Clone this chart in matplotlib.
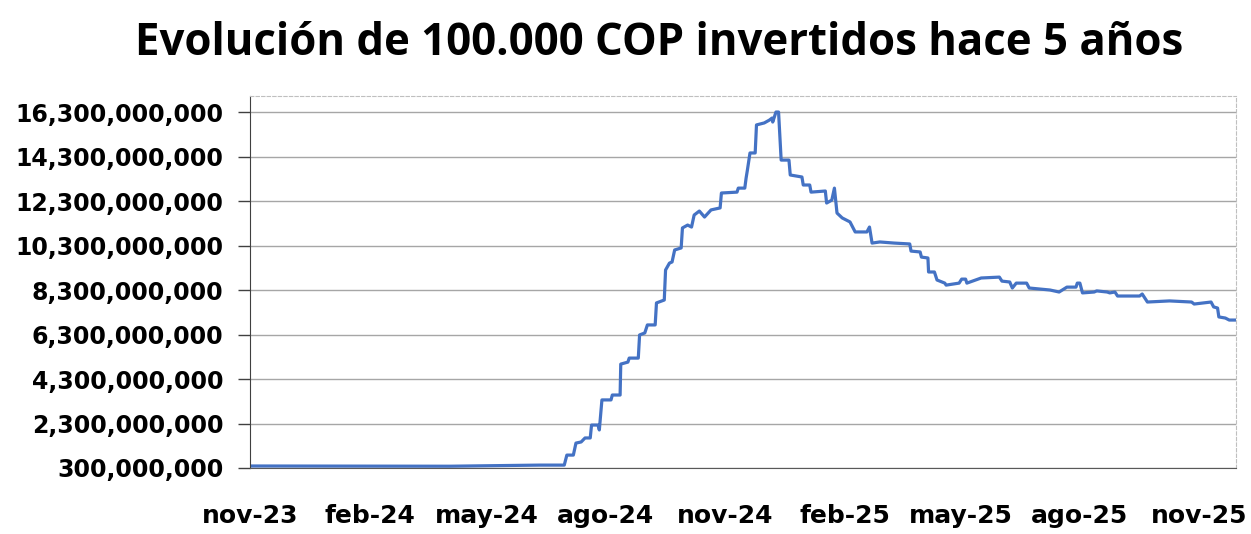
import numpy as np
import pandas as pd
import matplotlib
matplotlib.use('agg')
import matplotlib.pyplot as plt
import matplotlib.ticker as mticker

# dias desde 2023-11-01 y valor (miles de millones COP)
inicio = pd.Timestamp('2023-11-01')
dias = [0, 154, 223, 242, 244, 249, 251, 255, 258, 262, 263, 268, 269, 271, 278,
        279, 285, 285.5, 291, 292, 299, 300, 304, 306, 312, 313, 319, 320, 323, 325,
        327, 332, 333, 337, 340, 342, 346, 350, 355, 362, 363, 375, 376, 381, 382,
        383, 385, 389, 390, 396, 400, 402, 402.5, 405, 407, 409, 415, 416, 425, 426,
        431, 432, 443, 444, 448, 450, 452, 456, 462, 466, 475, 477, 479, 485, 496,
        508, 509, 516, 517, 522, 522.5, 527, 529, 535, 536, 546, 548, 551, 552, 563,
        577, 579, 585, 587, 590, 598, 600, 616, 623, 629, 636, 637, 639, 641, 650,
        652, 660, 662, 666, 668, 685, 687, 691, 708, 725, 727, 740, 742, 745, 746,
        751, 754, 759]
valores = [0.39, 0.38, 0.43, 0.43, 0.88, 0.88, 1.42, 1.47, 1.65, 1.65, 2.23, 2.23,
           2.01, 3.36, 3.36, 3.58, 3.58, 4.97, 5.06, 5.24, 5.24, 6.28, 6.37, 6.73,
           6.73, 7.72, 7.85, 9.20, 9.51, 9.56, 10.10, 10.19, 11.09, 11.22, 11.13,
           11.67, 11.85, 11.58, 11.90, 11.99, 12.66, 12.70, 12.88, 12.88, 13.33,
           13.69, 14.46, 14.46, 15.72, 15.81, 15.94, 16.03, 15.85, 16.30, 16.30,
           14.14, 14.14, 13.47, 13.38, 13.02, 13.02, 12.70, 12.75, 12.21, 12.34,
           12.88, 11.76, 11.54, 11.36, 10.91, 10.91, 11.13, 10.41, 10.46, 10.41,
           10.37, 10.05, 10.01, 9.78, 9.74, 9.11, 9.11, 8.75, 8.61, 8.52, 8.61,
           8.79, 8.79, 8.61, 8.84, 8.88, 8.70, 8.66, 8.39, 8.61, 8.61, 8.39, 8.30,
           8.21, 8.43, 8.43, 8.61, 8.61, 8.17, 8.21, 8.26, 8.21, 8.17, 8.21, 8.03,
           8.03, 8.12, 7.76, 7.81, 7.76, 7.67, 7.76, 7.54, 7.49, 7.09, 7.04, 6.95,
           6.95]

fechas_ticks = ['2023-11-01', '2024-02-01', '2024-05-01', '2024-08-01', '2024-11-01',
                '2025-02-01', '2025-05-01', '2025-08-01', '2025-11-01']
etiquetas_x = ['nov-23', 'feb-24', 'may-24', 'ago-24', 'nov-24',
               'feb-25', 'may-25', 'ago-25', 'nov-25']
ticks_y = [300e6 + 2e9 * i for i in range(9)]

titulo = 'Evolución de 100.000 COP invertidos hace 5 años'

plt.rcParams['font.family'] = ['Open Sans', 'DejaVu Sans']

fechas = inicio + pd.to_timedelta(dias, unit='D')
serie = np.array(valores) * 1e9

fig = plt.figure(figsize=(12.51, 5.34), dpi=100)
ax = fig.add_axes([0.1998, 0.1236, 0.788, 0.6966])

ax.plot(fechas, serie, color='#4472C4', lw=2.3, solid_joinstyle='round')

ax.set_ylim(300e6, 17.02e9)
ax.set_xlim(inicio, inicio + pd.Timedelta(days=759))
ax.set_yticks(ticks_y)
ax.yaxis.set_major_formatter(mticker.FuncFormatter(lambda v, p: '{:,.0f}'.format(v)))
ax.set_xticks(pd.to_datetime(fechas_ticks))
ax.set_xticklabels(etiquetas_x)

ax.grid(axis='y', color='#a6a6a6', lw=1.0)
ax.set_axisbelow(True)
ax.tick_params(axis='y', length=9, width=1, color='#404040', labelsize=17, pad=10)
ax.tick_params(axis='x', length=0, labelsize=18, pad=26)
for lab in ax.get_xticklabels() + ax.get_yticklabels():
    lab.set_fontweight('bold')
    lab.set_family('DejaVu Sans')

ax.spines['left'].set_color('#404040')
ax.spines['bottom'].set_color('#595959')
for s in ['top', 'right']:
    ax.spines[s].set_color('#bfbfbf')
    ax.spines[s].set_linestyle((0, (3, 2)))

fig.text(0.527, 0.918, titulo, ha='center', va='center', fontsize=31.5,
         fontweight='bold')

fig.savefig('out.png', dpi=100)
